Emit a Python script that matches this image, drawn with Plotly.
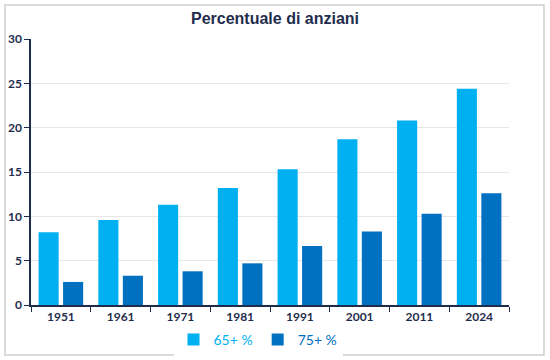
import plotly.graph_objects as go

years = ["1951", "1961", "1971", "1981", "1991", "2001", "2011", "2024"]
over65 = [8.2, 9.6, 11.3, 13.2, 15.3, 18.7, 20.8, 24.4]
over75 = [2.6, 3.3, 3.8, 4.7, 6.65, 8.3, 10.3, 12.6]
yticks = [0, 5, 10, 15, 20, 25, 30]

C65 = "#00B0F0"
C75 = "#0070C0"
NAVY = "#1F2D4D"

fig = go.Figure()
fig.add_trace(go.Bar(x=years, y=over65, marker_color=C65, marker_line_width=0,
                     name=f"<span style='color:{C65}'>65+ %</span>"))
fig.add_trace(go.Bar(x=years, y=over75, marker_color=C75, marker_line_width=0,
                     name=f"<span style='color:{C75}'>75+ %</span>"))

L, R, T, B = 31, 41, 39, 55
W, H = 550, 360
pw, ph = W - L - R, H - T - B

fig.update_layout(
    width=W, height=H,
    margin=dict(l=L, r=R, t=T, b=B, autoexpand=False),
    paper_bgcolor="white", plot_bgcolor="white",
    barmode="group", bargap=0.18, bargroupgap=0.18,
    font=dict(family="Lato, Liberation Sans, sans-serif", color=NAVY),
    title=dict(text="<b>Percentuale di anziani</b>", x=0.5, xanchor="center",
               yref="container", y=1 - 18 / H, yanchor="middle",
               font=dict(size=16, color=NAVY, family="Liberation Sans, Arial, sans-serif")),
    showlegend=True,
    legend=dict(orientation="h", x=(258 - L) / pw, xref="paper",
                xanchor="center", yref="container", y=1 - 340 / H, yanchor="middle",
                font=dict(size=14, family="Lato, sans-serif"),
                traceorder="normal", itemwidth=30, tracegroupgap=0),
    xaxis=dict(showline=True, linecolor=NAVY, linewidth=1.5, automargin=False,
               ticks="outside", tickson="boundaries", ticklen=5, tickcolor=NAVY,
               tickfont=dict(size=12, color=NAVY, family="Lato, sans-serif", weight="bold"),
               showgrid=False),
    yaxis=dict(range=[0, 30], tickvals=yticks, showline=True, linecolor=NAVY,
               linewidth=1.5, ticks="outside", ticklen=5, tickcolor=NAVY, automargin=False,
               tickfont=dict(size=12, color=NAVY, family="Lato, sans-serif", weight="bold"),
               showgrid=True, gridcolor="#E6E6E6", gridwidth=1, zeroline=False),
)

# outer light frame
fig.add_shape(type="rect", xref="paper", yref="paper",
              x0=(5 - L) / pw, x1=(544 - L) / pw,
              y0=-(355 - T - ph) / ph, y1=1 + (T - 5) / ph,
              line=dict(color="#D0D0D0", width=1.5), layer="above")

fig.write_html("out.html", config={"displayModeBar": False},
               post_script="document.body.style.margin='0';")
